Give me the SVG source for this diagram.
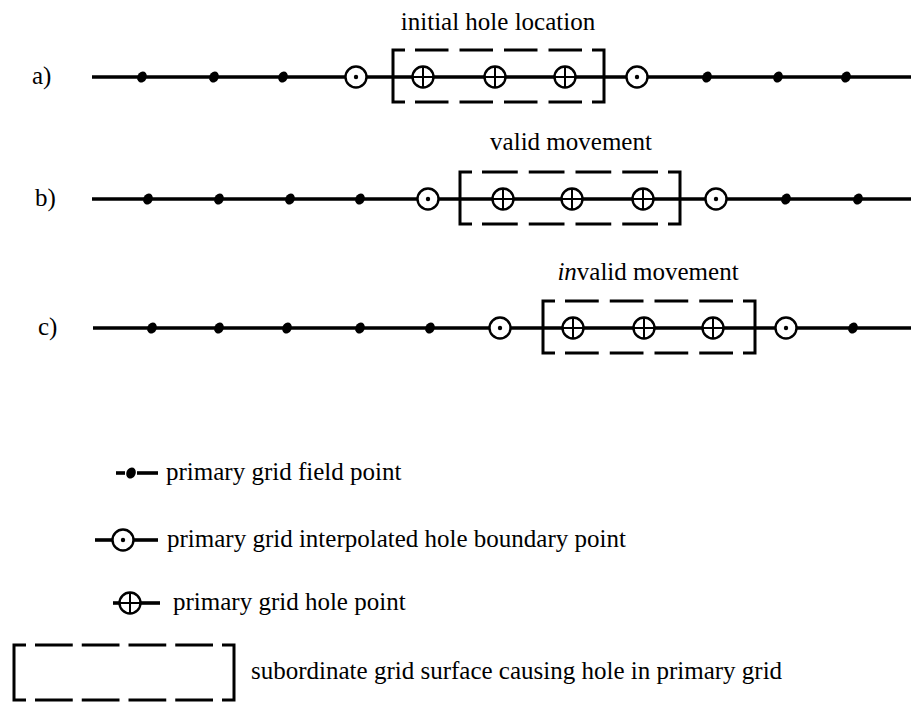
<svg xmlns="http://www.w3.org/2000/svg" xmlns:xlink="http://www.w3.org/1999/xlink" width="911" height="711" viewBox="0 0 911 711">
  <style>
    text { font-family: "Liberation Serif", "Times New Roman", serif; font-size: 25px; fill: #000; }
    .mid { text-anchor: middle; }
    .ln { stroke: #000; stroke-width: 3.6; fill: none; }
    .brk { stroke: #000; stroke-width: 3; fill: none; }
    .dsh { stroke: #000; stroke-width: 3; fill: none; }
    .ring { fill: #fff; stroke: #000; stroke-width: 2.4; }
    .cross { stroke: #000; stroke-width: 2; fill: none; }
  </style>
  <defs>
    <!-- primary grid field point -->
    <g id="fp">
      <ellipse rx="4.6" ry="5.8" transform="rotate(25)" fill="#000"/>
    </g>
    <!-- interpolated hole boundary point -->
    <g id="bp">
      <circle class="ring" r="10.5"/>
      <circle r="2.2" fill="#000"/>
    </g>
    <!-- hole point -->
    <g id="hp">
      <circle class="ring" r="10.5"/>
      <path class="cross" d="M-10.5,0H10.5M0,-10.5V10.5"/>
    </g>
  </defs>

  <rect width="911" height="711" fill="#fff"/>

  <!-- grid lines -->
  <g id="connectors">
    <line class="ln" x1="92" y1="77" x2="911" y2="77"/>
    <line class="ln" x1="92" y1="199" x2="911" y2="199"/>
    <line class="ln" x1="93" y1="328" x2="911" y2="328"/>
    <!-- legend sample stubs -->
    <line class="ln" x1="116" y1="473" x2="125" y2="473"/>
    <line class="ln" x1="137" y1="473" x2="158" y2="473"/>
    <line class="ln" x1="95" y1="540" x2="112" y2="540"/>
    <line class="ln" x1="134" y1="540" x2="158" y2="540"/>
    <line class="ln" x1="113" y1="603" x2="120" y2="603"/>
    <line class="ln" x1="140" y1="603" x2="160" y2="603"/>
  </g>

  <!-- row a: initial hole location -->
  <g id="row-a">
    <text x="32" y="84">a)</text>
    <text class="mid" x="498" y="30">initial hole location</text>
    <g id="box-a">
      <path class="brk" d="M405,50H393V102H405"/>
      <path class="brk" d="M592,50H604V102H592"/>
      <line class="dsh" x1="415" y1="50" x2="582" y2="50" stroke-dasharray="33.5 11"/>
      <line class="dsh" x1="415" y1="102" x2="582" y2="102" stroke-dasharray="33.5 11"/>
    </g>
    <use id="a1" xlink:href="#fp" x="142" y="77"/>
    <use id="a2" xlink:href="#fp" x="214" y="77"/>
    <use id="a3" xlink:href="#fp" x="283" y="77"/>
    <use id="a4" xlink:href="#bp" x="356" y="77"/>
    <use id="a5" xlink:href="#hp" x="423" y="77"/>
    <use id="a6" xlink:href="#hp" x="495" y="77"/>
    <use id="a7" xlink:href="#hp" x="565" y="77"/>
    <use id="a8" xlink:href="#bp" x="637" y="77"/>
    <use id="a9" xlink:href="#fp" x="707" y="77"/>
    <use id="a10" xlink:href="#fp" x="778" y="77"/>
    <use id="a11" xlink:href="#fp" x="846" y="77"/>
  </g>

  <!-- row b: valid movement -->
  <g id="row-b">
    <text x="35" y="206">b)</text>
    <text class="mid" x="571" y="150">valid movement</text>
    <g id="box-b">
      <path class="brk" d="M472,172H460V224H472"/>
      <path class="brk" d="M668,172H680V224H668"/>
      <line class="dsh" x1="482" y1="172" x2="658" y2="172" stroke-dasharray="35.75 11"/>
      <line class="dsh" x1="482" y1="224" x2="658" y2="224" stroke-dasharray="35.75 11"/>
    </g>
    <use id="b1" xlink:href="#fp" x="148" y="199"/>
    <use id="b2" xlink:href="#fp" x="219" y="199"/>
    <use id="b3" xlink:href="#fp" x="290" y="199"/>
    <use id="b4" xlink:href="#fp" x="360" y="199"/>
    <use id="b5" xlink:href="#bp" x="428" y="199"/>
    <use id="b6" xlink:href="#hp" x="503" y="199"/>
    <use id="b7" xlink:href="#hp" x="572" y="199"/>
    <use id="b8" xlink:href="#hp" x="643" y="199"/>
    <use id="b9" xlink:href="#bp" x="716" y="199"/>
    <use id="b10" xlink:href="#fp" x="786" y="199"/>
    <use id="b11" xlink:href="#fp" x="858" y="199"/>
  </g>

  <!-- row c: invalid movement -->
  <g id="row-c">
    <text x="38" y="335">c)</text>
    <text class="mid" x="648" y="280"><tspan font-style="italic">in</tspan>valid movement</text>
    <g id="box-c">
      <path class="brk" d="M555,301H543V353H555"/>
      <path class="brk" d="M743,301H755V353H743"/>
      <line class="dsh" x1="565" y1="301" x2="733" y2="301" stroke-dasharray="33.75 11"/>
      <line class="dsh" x1="565" y1="353" x2="733" y2="353" stroke-dasharray="33.75 11"/>
    </g>
    <use id="c1" xlink:href="#fp" x="152" y="328"/>
    <use id="c2" xlink:href="#fp" x="219" y="328"/>
    <use id="c3" xlink:href="#fp" x="287" y="328"/>
    <use id="c4" xlink:href="#fp" x="360" y="328"/>
    <use id="c5" xlink:href="#fp" x="430" y="328"/>
    <use id="c6" xlink:href="#bp" x="500" y="328"/>
    <use id="c7" xlink:href="#hp" x="573" y="328"/>
    <use id="c8" xlink:href="#hp" x="644" y="328"/>
    <use id="c9" xlink:href="#hp" x="713" y="328"/>
    <use id="c10" xlink:href="#bp" x="786" y="328"/>
    <use id="c11" xlink:href="#fp" x="853" y="328"/>
  </g>

  <!-- legend -->
  <g id="legend-field">
    <use xlink:href="#fp" x="131" y="473"/>
    <text x="166" y="480">primary grid field point</text>
  </g>
  <g id="legend-boundary">
    <use xlink:href="#bp" x="123" y="540"/>
    <text x="167" y="547">primary grid interpolated hole boundary point</text>
  </g>
  <g id="legend-hole">
    <use xlink:href="#hp" x="130" y="603"/>
    <text x="173" y="610">primary grid hole point</text>
  </g>
  <g id="legend-surface">
    <path class="brk" d="M26,645H14V700H26"/>
    <path class="brk" d="M222,645H234V700H222"/>
    <line class="dsh" x1="35" y1="645" x2="213" y2="645" stroke-dasharray="37.75 9"/>
    <line class="dsh" x1="35" y1="700" x2="213" y2="700" stroke-dasharray="37.75 9"/>
    <text x="251" y="679">subordinate grid surface causing hole in primary grid</text>
  </g>
</svg>
